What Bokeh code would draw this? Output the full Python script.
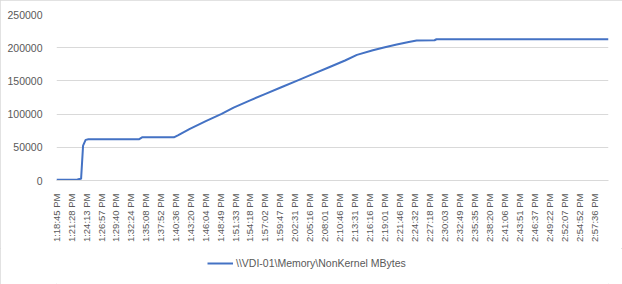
import math
from bokeh.plotting import figure
from bokeh.layouts import column
from bokeh.models import (Range1d, FixedTicker, Legend, LegendItem,
                          ColumnDataSource, BasicTickFormatter)
from bokeh.embed import file_html
from bokeh.resources import INLINE

# ---- data ----
tick_labels = ["1:18:45 PM", "1:21:28 PM", "1:24:13 PM", "1:26:57 PM", "1:29:40 PM",
               "1:32:24 PM", "1:35:08 PM", "1:37:52 PM", "1:40:36 PM", "1:43:20 PM",
               "1:46:04 PM", "1:48:49 PM", "1:51:33 PM", "1:54:18 PM", "1:57:02 PM",
               "1:59:47 PM", "2:02:31 PM", "2:05:16 PM", "2:08:01 PM", "2:10:46 PM",
               "2:13:31 PM", "2:16:16 PM", "2:19:01 PM", "2:21:46 PM", "2:24:32 PM",
               "2:27:18 PM", "2:30:03 PM", "2:32:49 PM", "2:35:35 PM", "2:38:20 PM",
               "2:41:06 PM", "2:43:51 PM", "2:46:37 PM", "2:49:22 PM", "2:52:07 PM",
               "2:54:52 PM", "2:57:36 PM"]

sample_times = ["1:18:45 PM", "1:22:37 PM", "1:22:43 PM", "1:23:16 PM", "1:23:38 PM",
                "1:24:06 PM", "1:24:36 PM", "1:33:53 PM", "1:34:28 PM", "1:40:19 PM",
                "1:41:03 PM", "1:43:15 PM", "1:46:11 PM", "1:49:05 PM", "1:51:17 PM",
                "1:54:13 PM", "1:57:09 PM", "2:00:03 PM", "2:02:59 PM", "2:05:55 PM",
                "2:08:50 PM", "2:11:46 PM", "2:13:57 PM", "2:16:53 PM", "2:19:05 PM",
                "2:21:16 PM", "2:23:28 PM", "2:24:55 PM", "2:28:12 PM", "2:28:34 PM",
                "3:00:10 PM"]

nonkernel_mb = [1000, 1000, 2000, 2500, 52600,
                61200, 62000, 62000, 65000, 65000,
                68000, 77800, 89300, 100300, 109800,
                120400, 130500, 140500, 150500, 160500,
                170600, 180700, 189200, 196200, 200700,
                204700, 208700, 210700, 211200, 212700,
                212700]

series_name = "\\\\VDI-01\\Memory\\NonKernel MBytes"
y_ticks = [0, 50000, 100000, 150000, 200000, 250000]


def secs(s):
    hms, ampm = s.split()
    h, m, sec = map(int, hms.split(":"))
    if ampm == "PM" and h != 12:
        h += 12
    return h * 3600 + m * 60 + sec


t0 = secs(tick_labels[0])
tick_pos = [secs(s) - t0 for s in tick_labels]
xs = [secs(s) - t0 for s in sample_times]

TEXT = "#595959"
GRID = "#D9D9D9"
BLUE = "#4472C4"

p = figure(width=622, height=248, output_backend="svg", toolbar_location=None,
           x_range=Range1d(0, xs[-1]), y_range=Range1d(0, 250000),
           min_border_left=56, min_border_right=14, min_border_top=14,
           min_border_bottom=68)
p.outline_line_color = None
p.background_fill_color = "white"
p.border_fill_color = "white"

src = ColumnDataSource(dict(x=xs, y=nonkernel_mb))
r = p.line("x", "y", source=src, line_color=BLUE, line_width=2)

# y axis
p.yaxis.ticker = FixedTicker(ticks=y_ticks)
p.yaxis.formatter = BasicTickFormatter(use_scientific=False)
p.yaxis.axis_line_color = None
p.yaxis.major_tick_line_color = None
p.yaxis.minor_tick_line_color = None
p.yaxis.major_label_standoff = 8
p.yaxis.major_label_text_font = "Liberation Sans"
p.yaxis.major_label_text_font_size = "10.5px"
p.yaxis.major_label_text_color = TEXT
p.ygrid.grid_line_color = GRID
p.ygrid.ticker = FixedTicker(ticks=y_ticks)

# x axis
p.xaxis.ticker = FixedTicker(ticks=tick_pos)
p.xaxis.major_label_overrides = {tp: lab for tp, lab in zip(tick_pos, tick_labels)}
p.xaxis.major_label_orientation = math.pi / 2
p.xaxis.axis_line_color = GRID
p.xaxis.major_tick_line_color = None
p.xaxis.minor_tick_line_color = None
p.xaxis.major_label_standoff = 7
p.xaxis.major_label_text_font = "Liberation Sans"
p.xaxis.major_label_text_font_size = "9.5px"
p.xaxis.major_label_text_color = TEXT
p.xgrid.grid_line_color = None

# legend strip underneath (its line sits outside the visible range; only the key shows)
lf = figure(width=622, height=36, output_backend="svg", toolbar_location=None,
            x_range=Range1d(0, 1), y_range=Range1d(0, 1),
            min_border_left=0, min_border_right=0, min_border_top=0,
            min_border_bottom=0)
lf.axis.visible = False
lf.grid.visible = False
lf.outline_line_color = None
lf.background_fill_color = "white"
lf.border_fill_color = "white"
lr = lf.line(x=[5, 6], y=[5, 6], line_color=BLUE, line_width=2)

legend = Legend(items=[LegendItem(label=series_name, renderers=[lr])],
                location=(151, 14), orientation="horizontal",
                border_line_color=None, background_fill_alpha=0,
                glyph_width=26, glyph_height=14, label_standoff=3,
                label_text_font="Liberation Sans", label_text_font_size="10.5px",
                label_text_color=TEXT, margin=0, padding=5)
lf.add_layout(legend)

layout = column(p, lf, spacing=0, width=622, height=284)
layout.styles = {"outline": "1px solid #D9D9D9", "outline-offset": "-1px"}

open("out.html", "w").write(file_html(layout, INLINE))
